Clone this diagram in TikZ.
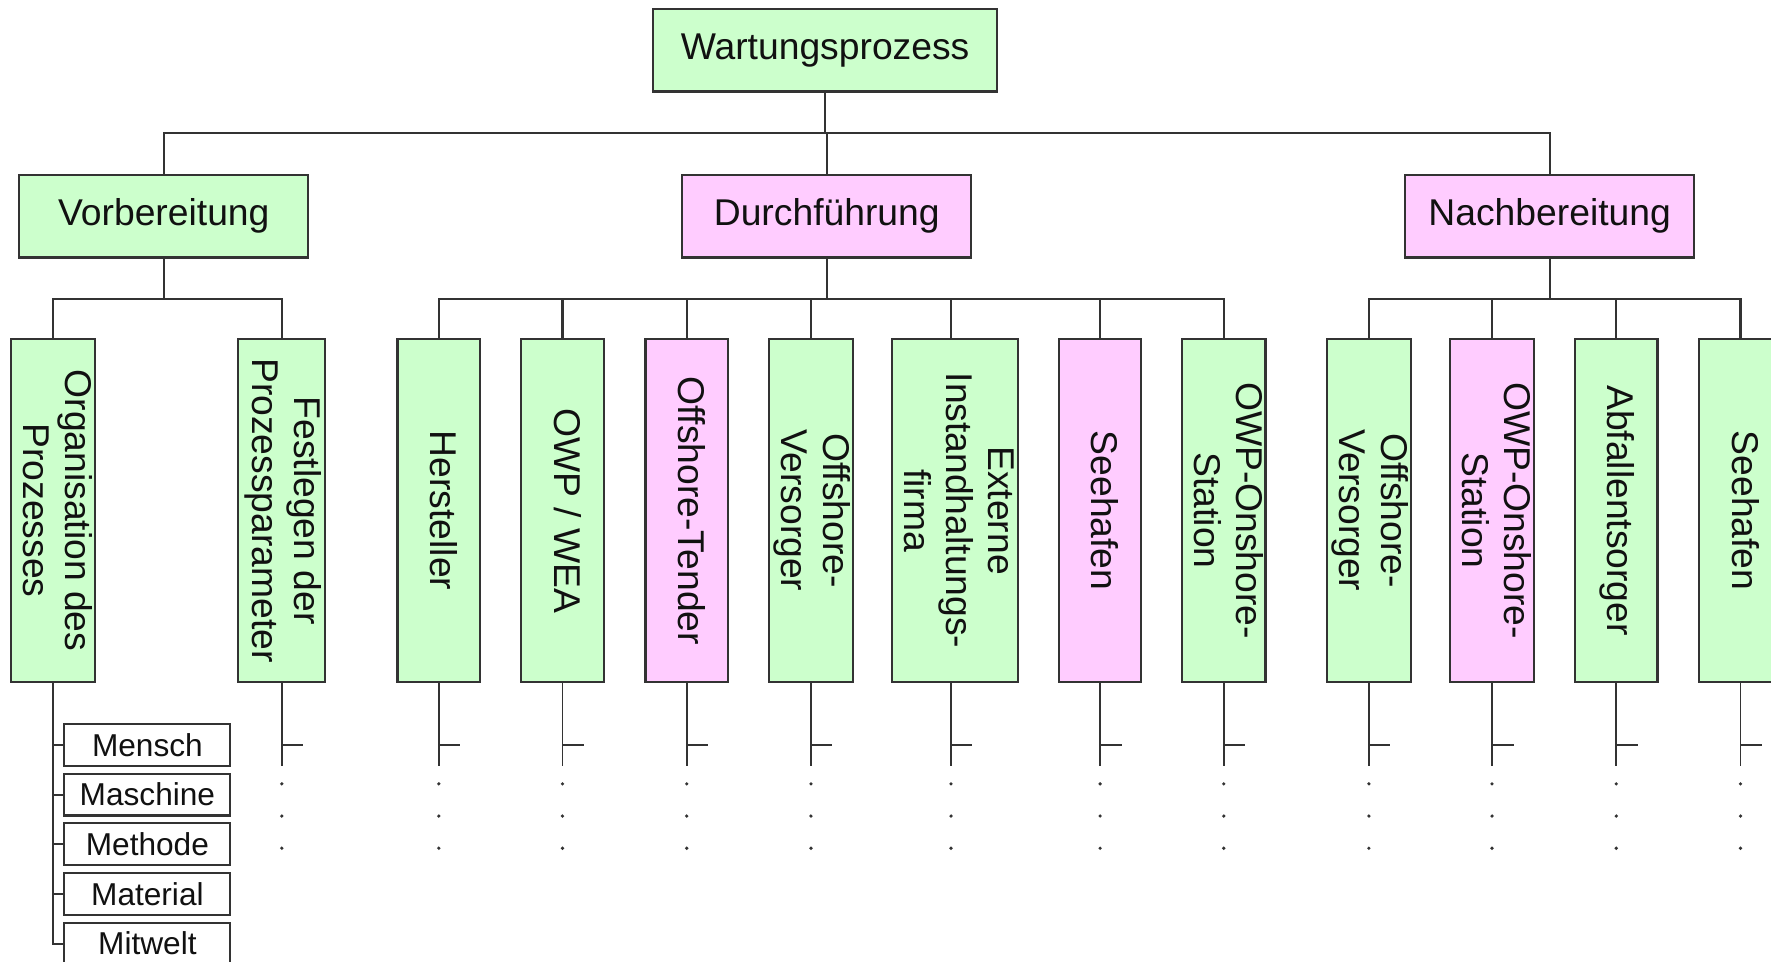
\documentclass[tikz,border=0pt]{standalone}
\usepackage{fontspec}
\setmainfont{Liberation Sans}
\usepackage{graphicx}
\definecolor{boxgreen}{HTML}{CCFFCC}
\definecolor{boxpink}{HTML}{FFCCFF}
\definecolor{linegray}{HTML}{333333}
\definecolor{textdark}{HTML}{111111}

% text set top-to-bottom inside the upright boxes
\newcommand{\vlabel}[1]{\rotatebox[origin=c]{-90}{\begin{tabular}{@{}c@{}}#1\end{tabular}}}

\begin{document}
\begin{tikzpicture}[x=0.5pt,y=-0.5pt,
  box/.style={draw=linegray, line width=1pt, inner sep=0pt, text=textdark,
    font=\fontsize{16.5}{18.5}\selectfont},
  topbox/.style={box, minimum width=152.5pt, minimum height=36.5pt},
  midbox/.style={box, minimum width=128pt, minimum height=36.5pt},
  leafbox/.style={box, minimum width=#1, minimum height=152pt},
  leafbox/.default=36.5pt,
  subbox/.style={draw=linegray, line width=0.9pt, inner sep=0pt, text=textdark,
    minimum width=73.5pt, minimum height=18.5pt, font=\fontsize{14}{16}\selectfont},
  green/.style={fill=boxgreen},
  pink/.style={fill=boxpink},
  conn/.style={draw=linegray, line width=0.95pt},
  stub/.style={draw=linegray, line width=0.85pt},
]
\useasboundingbox (0,0) rectangle (1568,851);
\fill[white] (0,0) rectangle (1568,851);

% bus levels
\coordinate (b0) at (0,118);
\coordinate (b1) at (0,265);

% top and second level
\node[topbox, green] (W) at (730.5,44.5) {Wartungsprozess};
\node[midbox, green] (V) at (145,191.5) {Vorbereitung};
\node[midbox, pink]  (D) at (732,191.5) {Durchführung};
\node[midbox, pink]  (N) at (1372,191.5) {Nachbereitung};

% leaves
\node[leafbox, green] (L1) at (47,452) {\vlabel{Organisation des\\Prozesses}};
\node[leafbox=38.5pt, green] (L2) at (249.5,452) {\vlabel{Festlegen der\\Prozessparameter}};
\node[leafbox, green] (L3) at (388.5,452) {\vlabel{Hersteller}};
\node[leafbox, green] (L4) at (498,452) {\vlabel{OWP / WEA}};
\node[leafbox, pink]  (L5) at (608,452) {\vlabel{Offshore-Tender}};
\node[leafbox, green] (L6) at (718,452) {\vlabel{Offshore-\\Versorger}};
\node[leafbox=55.5pt, green] (L7) at (845.5,452) {\vlabel{Externe\\Instandhaltungs-\\firma}};
\node[leafbox, pink]  (L8) at (974,452) {\vlabel{Seehafen}};
\node[leafbox, green] (L9) at (1083.5,452) {\vlabel{OWP-Onshore-\\Station}};
\node[leafbox, green] (L10) at (1212,452) {\vlabel{Offshore-\\Versorger}};
\node[leafbox, pink]  (L11) at (1321,452) {\vlabel{OWP-Onshore-\\Station}};
\node[leafbox, green] (L12) at (1431,452) {\vlabel{Abfallentsorger}};
\node[leafbox, green] (L13) at (1541,452) {\vlabel{Seehafen}};

% attachment points on the top and bottom edges of the leaves
\foreach \c in {L1,L2,L3,L4,L5,L6,L8,L9,L10,L11,L12,L13}{
  \coordinate (\c t) at (\c.north);
  \coordinate (\c b) at (\c.south);
}
\coordinate (L7t) at ([xshift=-1.75pt]L7.north);
\coordinate (L7b) at ([xshift=-1.75pt]L7.south);

% sub-items of the organisation box
\node[subbox] (s1) at (130.5,659.5) {Mensch};
\node[subbox] (s2) at (130.5,703.5) {Maschine};
\node[subbox] (s3) at (130.5,747.5) {Methode};
\node[subbox] (s4) at (130.5,791.5) {Material};
\node[subbox] (s5) at (130.5,835.5) {Mitwelt};

% connectors: top level
\foreach \c in {V,D,N}
  \draw[conn] (W.south) -- (W.south |- b0) -| (\c.north);

% connectors: second level
\foreach \c in {L1,L2}
  \draw[conn] (V.south) -- (V.south |- b1) -| (\c t);
\foreach \c in {L3,L4,L5,L6,L7,L8,L9}
  \draw[conn] (D.south) -- (D.south |- b1) -| (\c t);
\foreach \c in {L10,L11,L12,L13}
  \draw[conn] (N.south) -- (N.south |- b1) -| (\c t);

% organisation sub-items
\draw[stub] (L1b) |- (s5.west);
\foreach \s in {s1,s2,s3,s4}
  \draw[stub] (L1b |- \s.west) -- (\s.west);

% open-ended branches below the other leaves
\foreach \c in {L2,L3,L4,L5,L6,L7,L8,L9,L10,L11,L12,L13}{
  \draw[stub] (\c b) -- ++(0,73);
  \draw[stub] (\c b) ++(0,55) -- ++(19,0);
  \foreach \d in {89,117.5,146}
    \fill[linegray] (\c b) ++(0,\d) circle[radius=0.8pt];
}
\end{tikzpicture}
\end{document}
